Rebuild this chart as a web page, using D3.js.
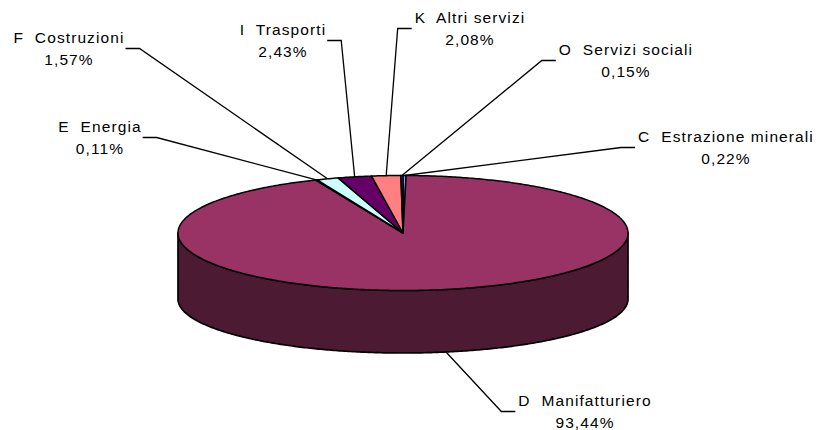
<!DOCTYPE html>
<html>
<head>
<meta charset="utf-8">
<script src="https://cdn.jsdelivr.net/npm/d3@7"></script>
<style>
  html, body { margin: 0; padding: 0; background: #ffffff; }
  svg { display: block; }
  .lbl { font-family: "Liberation Sans", Arial, sans-serif; font-size: 15.5px; fill: #000; letter-spacing: 1.1px; white-space: pre; }
</style>
</head>
<body>
<svg id="chart" width="821" height="430"></svg>
<script>
// Sectors (NACE section code + name) and their share of the total, in percent
const codes  = ["C", "D", "E", "F", "I", "K", "O"];
const names  = ["Estrazione minerali", "Manifatturiero", "Energia", "Costruzioni",
                "Trasporti", "Altri servizi", "Servizi sociali"];
const values = [0.22, 93.44, 0.11, 1.57, 2.43, 2.08, 0.15];

// Fill colours of the top face, one per sector
const topColors  = ["#9999ff", "#993366", "#ffffcc", "#ccffff", "#660066", "#ff8080", "#0066cc"];
// Darker shade used on the visible rim of each sector
const sideColors = ["#4d4d80", "#4d1a33", "#808066", "#668080", "#330033", "#804040", "#003366"];

// Label placement: centre x and first baseline, and which way the leader stub leaves the text
const labelLayout = {
  C: { x: 726, y: 142, stub: "left"  },
  D: { x: 585, y: 406, stub: "left"  },
  E: { x: 100, y: 132, stub: "right" },
  F: { x: 69,  y: 43,  stub: "right" },
  I: { x: 283, y: 35,  stub: "right" },
  K: { x: 470, y: 23,  stub: "left"  },
  O: { x: 626, y: 55,  stub: "left"  }
};

// Geometry of the tilted pie
const cx = 403, rx = 225;
const cyTop = 233, ryTop = 57.5;     // top face ellipse
const cyBot = 299, ryBot = 54;       // bottom rim ellipse
const lineGap = 22, stubLen = 14;

const svg = d3.select("#chart");

const data = codes.map((c, i) => ({ code: c, name: names[i], value: values[i], i }));
const arcs = d3.pie().sort(null).value(d => d.value).startAngle(0).endAngle(2 * Math.PI)(data);

const topPt = a => [cx + rx * Math.sin(a), cyTop - ryTop * Math.cos(a)];
const botPt = a => [cx + rx * Math.sin(a), cyBot - ryBot * Math.cos(a)];
const samples = (a0, a1) => {
  const n = Math.max(2, Math.ceil((a1 - a0) / 0.01));
  return d3.range(n + 1).map(k => a0 + (a1 - a0) * k / n);
};
const line = d3.line();

// Visible rim: the front half of the cylinder, angles between 90° and 270°
const rimLayer = svg.append("g");
arcs.forEach(s => {
  const a0 = Math.max(s.startAngle, Math.PI / 2);
  const a1 = Math.min(s.endAngle, 3 * Math.PI / 2);
  if (a0 >= a1) return;
  const pts = samples(a0, a1).map(topPt).concat(samples(a0, a1).reverse().map(botPt));
  rimLayer.append("path")
    .attr("d", line(pts) + "Z")
    .attr("fill", sideColors[s.data.i])
    .attr("stroke", "#000")
    .attr("stroke-width", 1.7)
    .attr("stroke-linejoin", "round");
});

// Top face sectors
const faceLayer = svg.append("g");
arcs.forEach(s => {
  const pts = [[cx, cyTop]].concat(samples(s.startAngle, s.endAngle).map(topPt));
  faceLayer.append("path")
    .attr("d", line(pts) + "Z")
    .attr("fill", topColors[s.data.i])
    .attr("stroke", "#000")
    .attr("stroke-width", 1.5)
    .attr("stroke-linejoin", "round");
});

// Labels with leader lines
const pct = v => d3.format(".2f")(v).replace(".", ",") + "%";
const labelLayer = svg.append("g");
const leaderLayer = svg.append("g");
arcs.forEach(s => {
  const d = s.data, L = labelLayout[d.code];
  const t = labelLayer.append("text").attr("class", "lbl").attr("text-anchor", "middle");
  t.append("tspan").attr("x", L.x).attr("y", L.y).text(d.code + "  " + d.name);
  t.append("tspan").attr("x", L.x).attr("y", L.y + lineGap).text(pct(d.value));

  const w = t.select("tspan").node().getComputedTextLength();
  const sy = L.y + 5.5;
  const sx0 = L.stub === "right" ? L.x + w / 2 + 1 : L.x - w / 2 - 3;
  const sx1 = L.stub === "right" ? sx0 + stubLen : sx0 - stubLen;

  const mid = (s.startAngle + s.endAngle) / 2;
  const anchor = Math.cos(mid) < 0 ? botPt(mid) : topPt(mid);
  leaderLayer.append("path")
    .attr("d", line([[sx0, sy], [sx1, sy], anchor]))
    .attr("fill", "none")
    .attr("stroke", "#000")
    .attr("stroke-width", 1.3);
});
</script>
</body>
</html>
